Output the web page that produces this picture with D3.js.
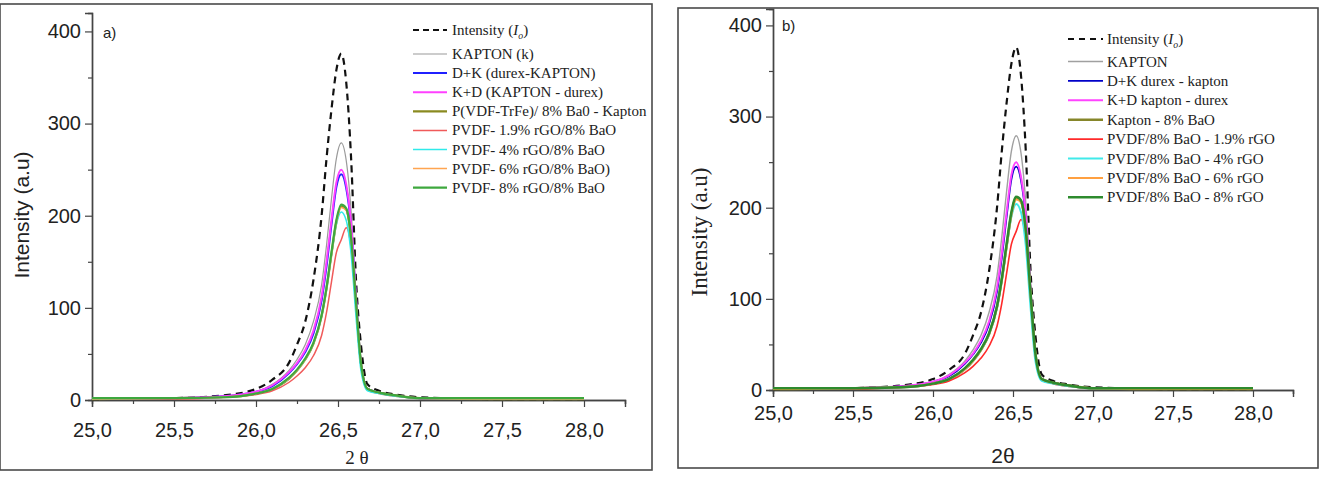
<!DOCTYPE html>
<html lang="en">
<head>
    <meta charset="UTF-8">
    <title>XRD peaks: Kapton / durex / PVDF-rGO-BaO</title>
    <script src="https://d3js.org/d3.v7.min.js"></script>
    <style>
        body { margin: 0; background: #fff; }
        svg { display: block; }
    </style>
</head>
<body>
<svg width="1326" height="478"></svg>
<script type="text/javascript">

    // ---- data (2 theta vs intensity, a.u) ----
    var twoTheta    = [25.0, 25.5, 25.8, 26.0, 26.1, 26.2, 26.25, 26.3, 26.35, 26.4, 26.43, 26.46, 26.49, 26.52, 26.55, 26.58, 26.61, 26.64, 26.68, 26.75, 26.85, 27.0, 27.5, 28.0];
    var intensityI0 = [1, 2, 5, 12, 22, 40, 60, 85, 130, 200, 262, 315, 358, 376, 345, 262, 130, 60, 17, 10, 6, 3, 1, 1];
    var kapton      = [1, 2, 4, 9, 17, 32, 44, 60, 85, 125, 168, 218, 262, 279, 260, 205, 115, 42, 12, 8, 5, 2, 1, 1];
    var durexKapton = [1, 2, 4, 9, 15, 29, 39, 52, 72, 108, 145, 190, 231, 245, 230, 188, 108, 39, 12, 8, 5, 2, 1, 1];
    var kaptonDurex = [1, 2, 4, 9, 16, 30, 40, 54, 75, 112, 150, 195, 236, 250, 234, 191, 110, 40, 12, 8, 5, 2, 1, 1];
    var vdfBaO      = [1, 2, 3, 7, 12, 23, 32, 44, 61, 91, 121, 158, 193, 210, 207, 175, 104, 40, 12, 8, 5, 2, 1, 1];
    var rgo19       = [1, 1, 3, 6, 10, 19, 26, 35, 48, 70, 95, 128, 160, 174, 187, 165, 100, 38, 11, 7, 4, 2, 1, 1];
    var rgo4        = [1, 2, 3, 7, 12, 23, 32, 44, 61, 91, 121, 157, 190, 204, 195, 158, 90, 32, 10, 7, 4, 2, 1, 1];
    var rgo6        = [1, 2, 3, 7, 12, 23, 32, 44, 61, 91, 121, 157, 192, 209, 206, 174, 104, 40, 12, 8, 5, 2, 1, 1];
    var rgo8        = [2, 2, 3, 7, 12, 24, 33, 45, 62, 92, 122, 160, 195, 212, 208, 175, 105, 40, 12, 8, 5, 2, 2, 2];

    var xTicks      = [25.0, 25.5, 26.0, 26.5, 27.0, 27.5, 28.0];
    var xMinorTicks = [25.25, 25.75, 26.25, 26.75, 27.25, 27.75, 28.25];
    var yTicks      = [0, 100, 200, 300, 400];
    var yMinorTicks = [50, 150, 250, 350];

    var labelsA = ["KAPTON (k)", "D+K (durex-KAPTON)", "K+D (KAPTON - durex)", "P(VDF-TrFe)/ 8% Ba0 - Kapton",
                   "PVDF- 1.9% rGO/8% BaO", "PVDF- 4% rGO/8% BaO", "PVDF- 6% rGO/8% BaO)", "PVDF- 8% rGO/8% BaO"];
    var labelsB = ["KAPTON", "D+K durex - kapton", "K+D kapton - durex", "Kapton - 8% BaO",
                   "PVDF/8% BaO - 1.9% rGO", "PVDF/8% BaO - 4% rGO", "PVDF/8% BaO - 6% rGO", "PVDF/8% BaO - 8% rGO"];
    var seriesValues = [kapton, durexKapton, kaptonDurex, vdfBaO, rgo19, rgo4, rgo6, rgo8];

    var colorsA = ["#9a9a9a", "#2020ff", "#ff40ff", "#8a8a20", "#f05a5a", "#30eaea", "#ffa550", "#3ea83e"];
    var colorsB = ["#a0a0a0", "#0000c8", "#ff44ff", "#86862a", "#ff2a2a", "#40eaea", "#ffa040", "#2e8b2e"];
    var widthsA = [1.2, 2, 2, 2.2, 1.5, 1.5, 1.5, 2.2];
    var widthsB = [1.4, 1.8, 2, 2.5, 1.6, 2, 2, 2.5];

    var svg = d3.select("svg");
    var commaFmt = function(d) { return d3.format(".1f")(d).replace(".", ","); };

    // one function per panel so a) and b) share the drawing code
    function drawPanel(cfg) {
        var g = svg.append("g");

        // panel frame
        g.append("rect")
            .attr("x", cfg.frame[0]).attr("y", cfg.frame[1])
            .attr("width", cfg.frame[2]).attr("height", cfg.frame[3])
            .attr("fill", "none").attr("stroke", "#4a4a4a").attr("stroke-width", 1.6);

        var x = d3.scaleLinear().domain([25, 28.25]).range(cfg.xRange);
        var y = d3.scaleLinear().domain([0, cfg.yMax]).range(cfg.yRange);

        // minor ticks first, then the labelled axes on top
        g.append("g").attr("transform", "translate(0," + cfg.yRange[0] + ")")
            .call(d3.axisBottom(x).tickValues(xMinorTicks).tickSize(4).tickFormat(""));
        g.append("g").attr("transform", "translate(" + cfg.xRange[0] + ",0)")
            .call(d3.axisLeft(y).tickValues(yMinorTicks).tickSize(4).tickFormat(""));

        var xAxis = g.append("g").attr("transform", "translate(0," + cfg.yRange[0] + ")")
            .call(d3.axisBottom(x).tickValues(xTicks).tickSize(7).tickPadding(cfg.xPad).tickFormat(commaFmt));
        var yAxis = g.append("g").attr("transform", "translate(" + cfg.xRange[0] + ",0)")
            .call(d3.axisLeft(y).tickValues(yTicks).tickSize(7).tickPadding(4));

        g.selectAll(".domain").attr("stroke", "#444").attr("stroke-width", 1.4);
        g.selectAll(".tick line").attr("stroke", "#444").attr("stroke-width", 1.2);
        xAxis.selectAll("text").attr("font-family", "Liberation Sans, Arial").attr("font-size", 20).attr("fill", "#222");
        yAxis.selectAll("text").attr("font-family", "Liberation Sans, Arial").attr("font-size", 20).attr("fill", "#222");

        var line = d3.line()
            .x(function(d) { return x(d[0]); })
            .y(function(d) { return y(d[1]); })
            .curve(d3.curveMonotoneX);

        // Io reference, dashed
        g.append("path")
            .datum(d3.zip(twoTheta, intensityI0))
            .attr("d", line)
            .attr("fill", "none").attr("stroke", "#111")
            .attr("stroke-width", 2.2).attr("stroke-dasharray", "7,5");

        seriesValues.forEach(function(vals, i) {
            g.append("path")
                .datum(d3.zip(twoTheta, vals))
                .attr("d", line)
                .attr("fill", "none")
                .attr("stroke", cfg.colors[i])
                .attr("stroke-width", cfg.widths[i]);
        });

        // legend
        var lg = g.append("g").attr("font-family", "Liberation Serif, Times New Roman").attr("font-size", cfg.legendFont).attr("fill", "#222");
        lg.append("line")
            .attr("x1", cfg.legendX[0]).attr("x2", cfg.legendX[1])
            .attr("y1", cfg.legendY0).attr("y2", cfg.legendY0)
            .attr("stroke", "#111").attr("stroke-width", 2).attr("stroke-dasharray", cfg.legendDash);
        var t0 = lg.append("text").attr("x", cfg.legendX[2]).attr("y", cfg.legendY0 + 5);
        t0.append("tspan").text("Intensity (");
        t0.append("tspan").attr("font-style", "italic").text("I");
        t0.append("tspan").attr("font-style", "italic").attr("font-size", cfg.legendFont * 0.65).attr("dy", 4).text("o");
        t0.append("tspan").attr("dy", -4).text(")");

        cfg.labels.forEach(function(lab, i) {
            var yy = cfg.legendY1 + i * cfg.legendStep;
            lg.append("line")
                .attr("x1", cfg.legendX[0]).attr("x2", cfg.legendX[1])
                .attr("y1", yy).attr("y2", yy)
                .attr("stroke", cfg.colors[i]).attr("stroke-width", cfg.widths[i]);
            lg.append("text").attr("x", cfg.legendX[2]).attr("y", yy + 5).text(lab);
        });

        // panel letter
        g.append("text").attr("x", cfg.letter[0]).attr("y", cfg.letter[1])
            .attr("font-family", "Liberation Sans, Arial").attr("font-size", 15).attr("fill", "#222")
            .text(cfg.letter[2]);

        // axis titles
        g.append("text")
            .attr("transform", "translate(" + cfg.yTitle[0] + "," + cfg.yTitle[1] + ") rotate(-90)")
            .attr("text-anchor", "middle")
            .attr("font-family", cfg.yTitleFont).attr("font-size", cfg.yTitleSize).attr("fill", "#222")
            .text("Intensity (a.u)");
        g.append("text")
            .attr("x", cfg.xTitle[0]).attr("y", cfg.xTitle[1])
            .attr("text-anchor", "middle")
            .attr("font-family", cfg.xTitleFont).attr("font-size", cfg.xTitleSize).attr("fill", "#222")
            .text(cfg.xTitle[2]);
    }

    drawPanel({
        frame: [0, 4, 652, 466],
        xRange: [92, 625], yRange: [400, 13], yMax: 420, xPad: 16,
        colors: colorsA, widths: widthsA, labels: labelsA,
        legendX: [413, 447, 452], legendY0: 30, legendY1: 54, legendStep: 19.1, legendFont: 15, legendDash: "6,4",
        letter: [103, 38, "a)"],
        yTitle: [29, 215], yTitleFont: "Liberation Sans, Arial", yTitleSize: 21,
        xTitle: [357, 464, "2 θ"], xTitleFont: "Liberation Serif, Times New Roman", xTitleSize: 19
    });

    drawPanel({
        frame: [678, 8, 640, 460],
        xRange: [773, 1293], yRange: [390, 9], yMax: 418, xPad: 9,
        colors: colorsB, widths: widthsB, labels: labelsB,
        legendX: [1068, 1103, 1107], legendY0: 39, legendY1: 61.5, legendStep: 19.4, legendFont: 15, legendDash: "6,5",
        letter: [782, 31, "b)"],
        yTitle: [707, 232], yTitleFont: "Liberation Serif, Times New Roman", yTitleSize: 23,
        xTitle: [1003, 463, "2θ"], xTitleFont: "Liberation Sans, Arial", xTitleSize: 21
    });

</script>
</body>
</html>
